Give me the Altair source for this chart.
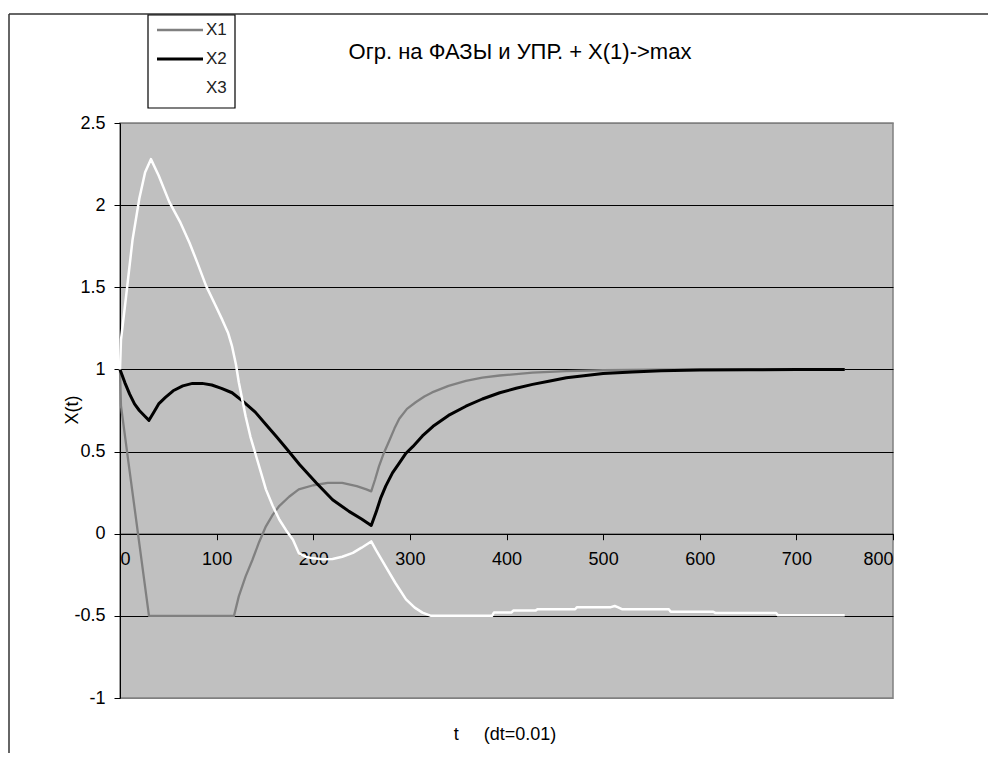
import altair as alt
import pandas as pd

FONT = "Liberation Sans"

series_names = ["X1", "X2", "X3"]
series_colors = ["#808080", "#000000", "#FFFFFF"]
series_widths = [2.3, 3, 2.5]

t1 = [0, 1, 10, 20, 30, 118, 123, 130, 137, 144, 151, 158, 165, 175, 185, 200, 215, 230, 245, 255, 260,
      264, 268, 273, 279, 284, 289, 297, 306, 315, 323, 340, 358, 375, 393, 427, 462, 500, 550, 600, 750]
x1 = [1.0, 0.78, 0.38, -0.06, -0.5, -0.5, -0.38, -0.26, -0.16, -0.05, 0.045, 0.115, 0.17, 0.225, 0.27, 0.295, 0.31, 0.31, 0.29, 0.27, 0.258,
      0.33, 0.41, 0.49, 0.57, 0.64, 0.70, 0.76, 0.80, 0.835, 0.86, 0.90, 0.93, 0.95, 0.963, 0.98, 0.99, 0.995, 0.998, 1.0, 1.0]

t2 = [0, 5, 10, 15, 20, 25, 30, 35, 40, 47, 55, 65, 75, 85, 95, 105, 116, 127, 140, 151, 162, 172, 186, 203, 220, 237, 250, 260,
      265, 270, 275, 282, 289, 296, 303, 313, 324, 340, 358, 375, 393, 410, 427, 445, 462, 480, 500, 530, 560, 600, 650, 700, 750]
x2 = [1.0, 0.92, 0.85, 0.79, 0.75, 0.72, 0.69, 0.74, 0.79, 0.83, 0.87, 0.90, 0.915, 0.915, 0.905, 0.885, 0.858, 0.807, 0.74, 0.665, 0.59, 0.52, 0.42, 0.31, 0.207, 0.136, 0.09, 0.05,
      0.13, 0.22, 0.29, 0.37, 0.43, 0.49, 0.53, 0.595, 0.654, 0.72, 0.776, 0.82, 0.858, 0.885, 0.909, 0.93, 0.949, 0.962, 0.975, 0.985, 0.992, 0.996, 0.998, 1.0, 1.0]

t3 = [0, 1, 6, 13, 20, 26, 32, 40, 51, 62, 72, 80, 89, 98, 106, 112, 116, 120, 123, 130, 135, 141, 146, 151, 158, 165, 172, 179, 185,
      192, 200, 210, 220, 230, 241, 250, 260, 265, 270, 275, 285, 296, 305, 313, 322, 385, 387, 405, 407, 430, 432, 471, 473, 508, 512,
      515, 520, 568, 570, 614, 616, 679, 681, 750]
x3 = [1.0, 1.18, 1.43, 1.79, 2.04, 2.2, 2.28, 2.18, 2.02, 1.9, 1.77, 1.65, 1.51, 1.40, 1.30, 1.22, 1.14, 1.03, 0.92, 0.715, 0.59, 0.47, 0.37, 0.27, 0.17, 0.085, 0.02, -0.037, -0.118,
      -0.14, -0.15, -0.155, -0.154, -0.14, -0.117, -0.085, -0.047, -0.1, -0.15, -0.2, -0.3, -0.4, -0.45, -0.48, -0.5, -0.5, -0.48, -0.48, -0.468, -0.468, -0.46, -0.46, -0.447, -0.447, -0.44,
      -0.447, -0.46, -0.46, -0.475, -0.475, -0.482, -0.482, -0.497, -0.497]

x_ticks = [0, 100, 200, 300, 400, 500, 600, 700, 800]
y_ticks = [-1, -0.5, 0, 0.5, 1, 1.5, 2, 2.5]

title_text = "Огр. на ФАЗЫ и УПР. + X(1)->max"
x_title = "t\u00a0\u00a0\u00a0\u00a0\u00a0(dt=0.01)"
y_title = "X(t)"

rows = []
for name, ts, vs in zip(series_names, [t1, t2, t3], [x1, x2, x3]):
    for a, b in zip(ts, vs):
        rows.append({"t": a, "x": b, "series": name})
df = pd.DataFrame(rows)

W, H = 773, 575
y_zero_offset = -H * (1 / 3.5)

x_enc = alt.X("t:Q", scale=alt.Scale(domain=[0, 800], nice=False),
              axis=alt.Axis(values=x_ticks, title=None, grid=False, offset=y_zero_offset,
                            tickSize=6, labelPadding=11, domainColor="black", tickColor="black",
                            labelFont=FONT, labelFontSize=18, labelColor="black"))
y_enc = alt.Y("x:Q", scale=alt.Scale(domain=[-1, 2.5], nice=False, zero=False),
              axis=alt.Axis(values=y_ticks, title=None, grid=True,
                            gridColor={"condition": {"test": "datum.value == 2.5 || datum.value == -1", "value": "#808080"}, "value": "black"},
                            gridWidth=1, tickSize=6, labelPadding=9, domainColor="black", tickColor="black",
                            labelFont=FONT, labelFontSize=18, labelColor="black",
                            labelExpr="'' + datum.value"))

layers = []
for name, col, wd in zip(series_names, series_colors, series_widths):
    layers.append(
        alt.Chart(df).transform_filter(alt.datum.series == name)
        .mark_line(color=col, strokeWidth=wd, strokeJoin="round")
        .encode(x=x_enc, y=y_enc)
    )

one = pd.DataFrame({"a": [0]})

# chart-area border (top and left edges)
border_top = alt.Chart(one).mark_rule(color="#333333", strokeWidth=1.5).encode(
    x=alt.value(-111), x2=alt.value(868), y=alt.value(-109))
border_left = alt.Chart(one).mark_rule(color="#333333", strokeWidth=1.5).encode(
    x=alt.value(-111), y=alt.value(-109), y2=alt.value(630))

# legend
legend_box = alt.Chart(one).mark_rect(fill="white", stroke="black", strokeWidth=1.2).encode(
    x=alt.value(28), x2=alt.value(115), y=alt.value(-108), y2=alt.value(-15))
legend_layers = [legend_box]
for i, (name, col, wd) in enumerate(zip(series_names, series_colors, series_widths)):
    yy = -93 + i * 29
    legend_layers.append(alt.Chart(one).mark_rule(color=col, strokeWidth=wd).encode(
        x=alt.value(37), x2=alt.value(83), y=alt.value(yy)))
    legend_layers.append(alt.Chart(one).mark_text(text=name, font=FONT, fontSize=17, color="#222222",
                                                  align="left", baseline="middle").encode(
        x=alt.value(86), y=alt.value(yy)))

title = alt.Chart(one).mark_text(text=title_text, font=FONT, fontSize=22, color="black",
                                 align="center", baseline="middle").encode(
    x=alt.value(400), y=alt.value(-71))
xt = alt.Chart(one).mark_text(text=x_title, font=FONT, fontSize=18, color="black",
                              align="center", baseline="middle").encode(
    x=alt.value(385), y=alt.value(612))
yt = alt.Chart(one).mark_text(text=y_title, font=FONT, fontSize=18, color="black", angle=270,
                              align="center", baseline="middle").encode(
    x=alt.value(-47), y=alt.value(287))

chart = alt.layer(*layers, border_top, border_left, *legend_layers, title, xt, yt).properties(
    width=W, height=H,
    padding={"left": 112, "top": 115, "right": 95, "bottom": 55},
    autosize=alt.AutoSizeParams(type="none"),
    background="white",
).configure_view(fill="#C0C0C0", stroke="#808080", strokeWidth=1.5)

chart.save("out.html", embed_options={"renderer": "svg", "actions": False})
